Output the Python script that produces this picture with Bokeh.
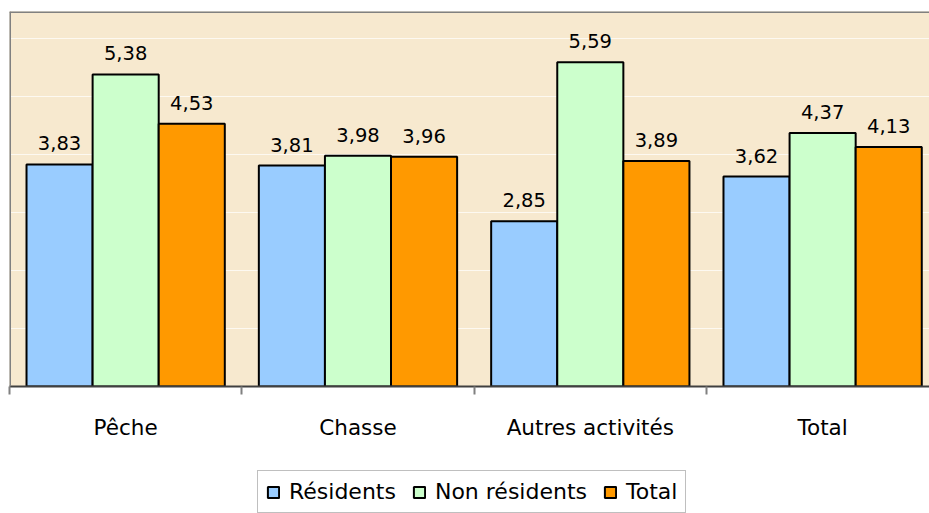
from bokeh.plotting import figure
from bokeh.layouts import column
from bokeh.models import (ColumnDataSource, Range1d, FixedTicker, Legend,
                          LegendItem, Span)
from bokeh.core.properties import value
from bokeh.embed import file_html
from bokeh.resources import INLINE

categories = ["Pêche", "Chasse", "Autres activités", "Total"]
series_names = ["Résidents", "Non résidents", "Total"]
residents = [3.83, 3.81, 2.85, 3.62]
non_residents = [5.38, 3.98, 5.59, 4.37]
total = [4.53, 3.96, 3.89, 4.13]
colors = ["#99CCFF", "#CCFFCC", "#FF9900"]

series_values = [residents, non_residents, total]
bar_w = 0.2845
offsets = [-bar_w, 0.0, bar_w]
y_max = 6.466

p = figure(width=929, height=460, output_backend="svg", toolbar_location=None,
           x_range=Range1d(0, 3.960), y_range=Range1d(0, y_max),
           min_border_left=9, min_border_right=0, min_border_top=11,
           min_border_bottom=74)
p.background_fill_color = "#F7E9CF"
p.border_fill_color = "white"
p.outline_line_color = None
p.yaxis.visible = False

# x axis: labels at category centres, minor ticks at boundaries
centres = [i + 0.5 for i in range(len(categories))]
xa = p.xaxis[0]
xa.ticker = FixedTicker(ticks=centres, minor_ticks=[float(i) for i in range(len(categories) + 1)])
xa.major_label_overrides = {c: lab for c, lab in zip(centres, categories)}
xa.major_tick_in = 0
xa.major_tick_out = 0
xa.minor_tick_in = 0
xa.minor_tick_out = 8
xa.minor_tick_line_color = "#808080"
xa.minor_tick_line_width = 2
xa.axis_line_color = "#404040"
xa.axis_line_width = 2
xa.major_label_standoff = 20
xa.major_label_text_font = "DejaVu Sans"
xa.major_label_text_font_size = "21.5px"
xa.major_label_text_color = "black"

p.xgrid.visible = False
p.ygrid.ticker = FixedTicker(ticks=[1, 2, 3, 4, 5, 6])
p.ygrid.grid_line_color = "#FFFFFF"
p.ygrid.grid_line_alpha = 0.7
p.ygrid.grid_line_width = 1

# plot-area border on the left and top
p.add_layout(Span(location=0, dimension="height", line_color="#808080", line_width=3))
p.add_layout(Span(location=y_max, dimension="width", line_color="#808080", line_width=3))

for name, vals, col, off in zip(series_names, series_values, colors, offsets):
    src = ColumnDataSource(dict(
        x=[c + off for c in centres],
        top=vals,
        label=[f"{v:.2f}".replace(".", ",") for v in vals],
    ))
    p.vbar(x="x", top="top", width=bar_w, bottom=0, source=src,
           fill_color=col, line_color="black", line_width=2)
    p.text(x="x", y="top", text="label", source=src, text_align="center",
           text_baseline="alphabetic", y_offset=-21,
           text_font=value("DejaVu Sans"), text_font_size="19.5px",
           text_color="black")

# legend strip below the chart
lg = figure(width=929, height=53, output_backend="svg", toolbar_location=None,
            x_range=Range1d(0, 1), y_range=Range1d(0, 1),
            min_border_left=0, min_border_right=0, min_border_top=0,
            min_border_bottom=0)
lg.axis.visible = False
lg.grid.visible = False
lg.outline_line_color = None
lg.background_fill_color = "white"
lg.border_fill_color = "white"

items = []
for name, vals, col in zip(series_names, series_values, colors):
    r = lg.vbar(x=centres, top=vals, width=0.1, fill_color=col,
                line_color="black", line_width=2, visible=False)
    items.append(LegendItem(label=name, renderers=[r]))

legend = Legend(items=items, orientation="horizontal", location=(248, 0),
                label_text_font="DejaVu Sans", label_text_font_size="22px",
                label_text_color="black",
                glyph_width=14, glyph_height=14, label_standoff=9,
                spacing=16, padding=8, margin=0,
                border_line_color="#808080", border_line_width=1.5,
                background_fill_color="white", background_fill_alpha=1.0)
lg.add_layout(legend)

layout = column(p, lg, spacing=0)
open("out.html", "w").write(file_html(layout, INLINE))
